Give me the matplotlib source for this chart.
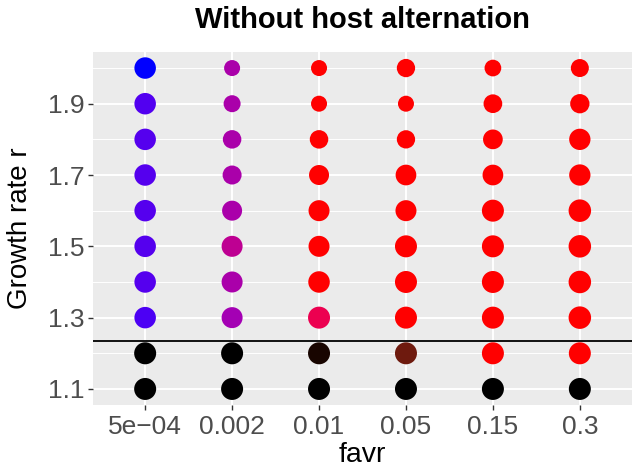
import matplotlib
matplotlib.use("Agg")
import matplotlib.pyplot as plt
import numpy as np

plt.rcParams['font.family'] = ['Liberation Sans', 'DejaVu Sans']

# ---- data ----
favr_labels = ["5e\u221204", "0.002", "0.01", "0.05", "0.15", "0.3"]
growth_r = [1.1, 1.2, 1.3, 1.4, 1.5, 1.6, 1.7, 1.8, 1.9, 2.0]
threshold_r = 1.235

# point size variable (per favr column, bottom -> top)
size_5e04 = [22, 22, 21.5, 21.5, 21.5, 21.5, 21.5, 21.5, 21.5, 21.5]
size_0002 = [22, 22, 21, 21, 21, 20, 19, 18.5, 17, 16]
size_001 = [22, 22, 22, 21.5, 21, 21, 20, 18.5, 16, 16]
size_005 = [22, 22, 22, 22, 22, 21, 20.7, 18.3, 16, 18.3]
size_015 = [22, 22, 22, 22, 22, 22, 20.7, 19.7, 18.7, 16.7]
size_03 = [22, 22, 22.5, 22.5, 22.5, 22.5, 21.3, 21.3, 19.3, 18]

# colour per point (bottom -> top)
col_5e04 = ["#000000", "#000000", "#4C00F4", "#5500EE", "#5500EE", "#5500EE",
            "#5500EE", "#5500EE", "#5200F0", "#0000FF"]
col_0002 = ["#000000", "#000000", "#A400B4", "#AA00AA", "#BE0092", "#AA00AA",
            "#AA00AA", "#AA00AA", "#AA00AA", "#AA00AA"]
col_001 = ["#000000", "#180500", "#EC0050", "#FF0000", "#FF0000", "#FF0000",
           "#FF0000", "#FF0000", "#FF0000", "#FF0000"]
col_005 = ["#000000", "#6E1A0E", "#FF0000", "#FF0000", "#FF0000", "#FF0000",
           "#FF0000", "#FF0000", "#FF0000", "#FF0000"]
col_015 = ["#000000", "#FF0000", "#FF0000", "#FF0000", "#FF0000", "#FF0000",
           "#FF0000", "#FF0000", "#FF0000", "#FF0000"]
col_03 = ["#000000", "#FF0000", "#FF0000", "#FF0000", "#FF0000", "#FF0000",
          "#FF0000", "#FF0000", "#FF0000", "#FF0000"]

sizes = [size_5e04, size_0002, size_001, size_005, size_015, size_03]
colors = [col_5e04, col_0002, col_001, col_005, col_015, col_03]

# ---- figure ----
W, H, DPI = 636, 472, 100
fig = plt.figure(figsize=(W / DPI, H / DPI), dpi=DPI)
ax = fig.add_axes([93 / W, (H - 405) / H, (632 - 93) / W, (405 - 52) / H])
ax.set_facecolor("#EBEBEB")
for s in ax.spines.values():
    s.set_visible(False)

px2pt = 72 / DPI
for lab, sz, cl in zip(favr_labels, sizes, colors):
    ax.scatter([lab] * len(growth_r), growth_r,
               s=[(d * px2pt) ** 2 for d in sz], c=cl, linewidths=0, zorder=3)

ax.axhline(threshold_r, color="black", lw=1.3, zorder=4)

ax.set_xlim(-0.6, len(favr_labels) - 0.4)
ax.set_ylim(1.055, 2.045)
ax.set_yticks([1.1, 1.3, 1.5, 1.7, 1.9])
ax.set_yticks([1.2, 1.4, 1.6, 1.8, 2.0], minor=True)
ax.grid(True, which="major", color="white", lw=1.4, zorder=0)
ax.grid(True, which="minor", axis="y", color="white", lw=0.7, zorder=0)
ax.set_axisbelow(True)

ax.tick_params(axis="both", which="major", length=3.5, width=1.0, color="#333333",
               labelcolor="#4D4D4D", labelsize=19, pad=2.5)
ax.tick_params(axis="x", which="major", pad=4)
ax.tick_params(axis="y", which="minor", length=0)

ax.set_xlabel("favr", fontsize=20.5)
ax.xaxis.set_label_coords(0.5, (405 - 455) / 353, transform=ax.transAxes)
ax.xaxis.label.set_va("center")
ax.set_ylabel("Growth rate r", fontsize=20)
ax.yaxis.set_label_coords((20 - 93) / 539, 0.5, transform=ax.transAxes)
ax.yaxis.label.set_va("center")
fig.text(362 / W, 1 - 20 / H, "Without host alternation", fontsize=21,
         fontweight="bold", ha="center", va="center")

fig.savefig("out.png", dpi=DPI)
